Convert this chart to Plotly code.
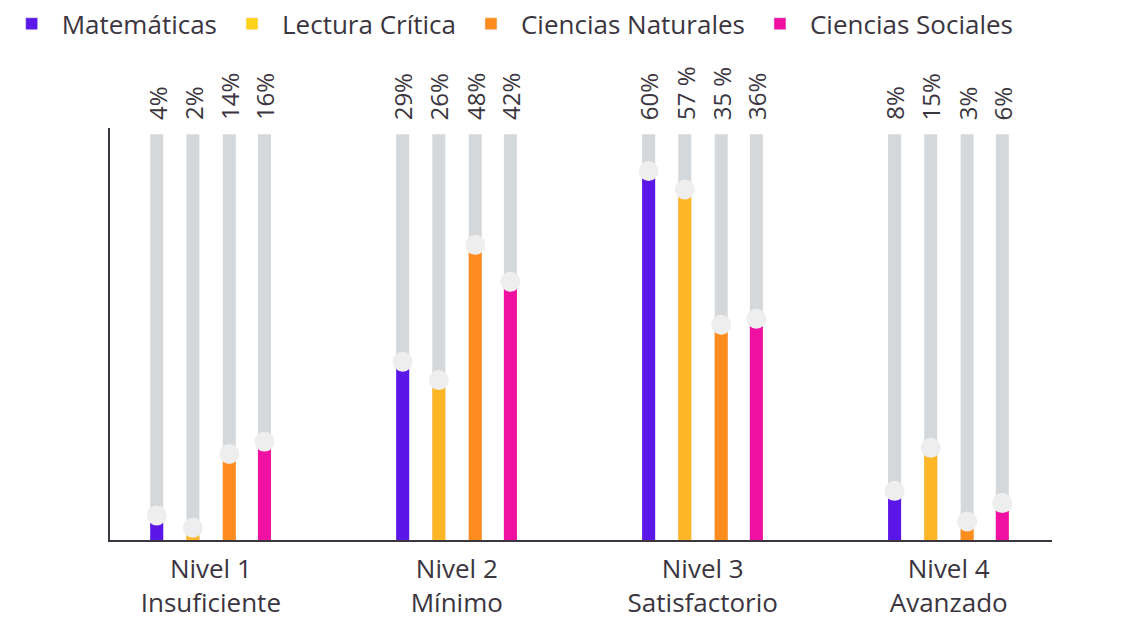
import plotly.graph_objects as go

niveles = ["Nivel 1<br>Insuficiente", "Nivel 2<br>Mínimo", "Nivel 3<br>Satisfactorio", "Nivel 4<br>Avanzado"]
areas = ["Matemáticas", "Lectura Crítica", "Ciencias Naturales", "Ciencias Sociales"]
valores = {
    "Matemáticas": [4, 29, 60, 8],
    "Lectura Crítica": [2, 26, 57, 15],
    "Ciencias Naturales": [14, 48, 35, 3],
    "Ciencias Sociales": [16, 42, 36, 6],
}
etiquetas = {
    "Matemáticas": ["4%", "29%", "60%", "8%"],
    "Lectura Crítica": ["2%", "26%", "57 %", "15%"],
    "Ciencias Naturales": ["14%", "48%", "35 %", "3%"],
    "Ciencias Sociales": ["16%", "42%", "36%", "6%"],
}
fondo = 66  # altura de la barra gris

colores_barra = ["#5B16E8", "#FDB626", "#FF8C1F", "#F010A2"]
colores_leyenda = ["#5B16E8", "#FDD21A", "#FF8C1F", "#F010A2"]
offsets = [-0.22, -0.073, 0.075, 0.218]
ANCHO = 0.053
TXT = "#3b3540"
FONT = "'Open Sans', 'Noto Sans', sans-serif"

fig = go.Figure()
grupos = list(range(len(niveles)))

# barras grises de fondo
for i, a in enumerate(areas):
    xs = [g + offsets[i] for g in grupos]
    fig.add_bar(
        x=xs, y=[fondo] * len(grupos), width=ANCHO,
        marker_color="#D5D8DB", marker_line_width=0,
        showlegend=False, hoverinfo="skip",
    )
    # etiquetas de porcentaje sobre la barra gris
    for x, t in zip(xs, etiquetas[a]):
        fig.add_annotation(
            x=x, y=fondo, text=t, showarrow=False, textangle=-90,
            xanchor="center", yanchor="bottom", yshift=12,
            font=dict(size=24, color=TXT, family=FONT),
        )

# barras de color
for i, a in enumerate(areas):
    xs = [g + offsets[i] for g in grupos]
    fig.add_bar(
        x=xs, y=valores[a], width=ANCHO,
        marker_color=colores_barra[i], marker_line_width=0,
        name=a, showlegend=False,
    )

# círculos
for i, a in enumerate(areas):
    xs = [g + offsets[i] for g in grupos]
    fig.add_scatter(
        x=xs, y=valores[a], mode="markers",
        marker=dict(size=20, color="#EEEEEE"),
        showlegend=False, cliponaxis=False, hoverinfo="skip",
    )

# leyenda
for i, a in enumerate(areas):
    fig.add_bar(x=[None], y=[None], name=a, marker_color=colores_leyenda[i])

# el body de la página tiene 8px de margen: se compensa aquí
fig.update_layout(
    width=1123, height=612,
    barmode="overlay",
    plot_bgcolor="white", paper_bgcolor="white",
    font=dict(family=FONT, color=TXT, size=26),
    margin=dict(l=102, r=79, t=120, b=80, autoexpand=False),
    legend=dict(
        orientation="h", x=-0.115, xanchor="left", y=1.31, yanchor="top",
        font=dict(size=26), itemwidth=50, traceorder="normal",
    ),
    xaxis=dict(
        range=[-0.41, 3.42], tickvals=grupos, ticktext=niveles,
        showline=True, linecolor=TXT, linewidth=2, ticks="",
        showgrid=False, zeroline=False, tickfont=dict(size=26),
        ticklabelstandoff=5, automargin=False,
    ),
    yaxis=dict(
        range=[0, 67], showline=True, linecolor=TXT, linewidth=2,
        showticklabels=False, ticks="", showgrid=False, zeroline=False,
        automargin=False,
    ),
)

fig.write_html("out.html")
